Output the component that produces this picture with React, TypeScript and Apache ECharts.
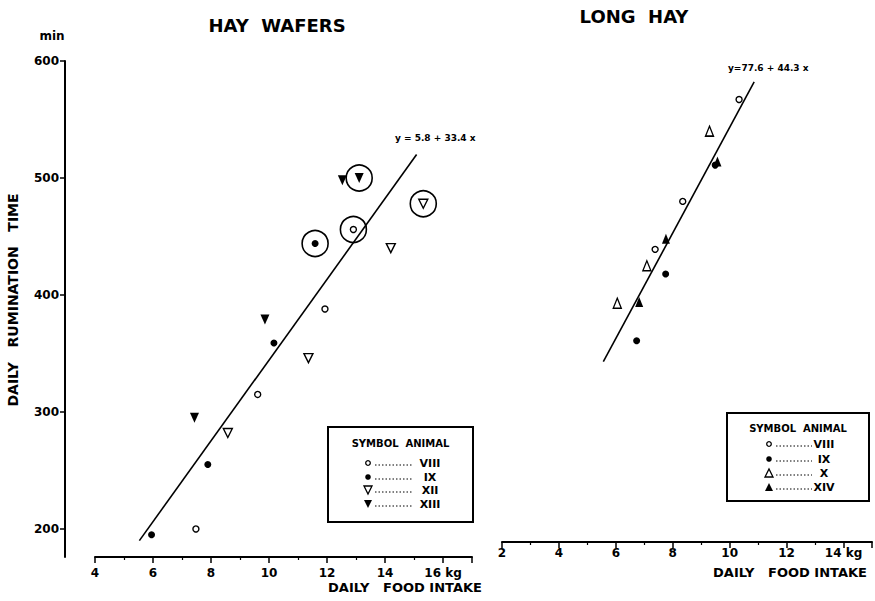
import React, { useEffect, useRef } from "react";
import * as echarts from "echarts";

// ---- data ----
// HAY WAFERS
const wafersVIII: number[][] = [[7.48, 200], [9.61, 315], [11.93, 388], [12.91, 456]];
const wafersIX: number[][] = [[5.95, 195], [7.89, 255], [10.17, 359], [11.59, 444]];
const wafersXII: number[][] = [[8.58, 282], [11.36, 346], [14.2, 440], [15.32, 478]];
const wafersXIII: number[][] = [[7.43, 295], [9.86, 379], [12.53, 498], [13.11, 500]];
const wafersCircled: number[][] = [[11.59, 444], [12.91, 456], [13.11, 500], [15.32, 478]];
const wafersFit: number[][] = [[5.53, 190], [15.09, 520]];
// LONG HAY
const longVIII: number[][] = [[7.38, 416], [8.35, 457], [10.33, 544]];
const longIX: number[][] = [[6.73, 338], [7.75, 395], [9.49, 488]];
const longX: number[][] = [[6.05, 370], [7.09, 402], [9.29, 517]];
const longXIV: number[][] = [[6.82, 371], [7.76, 425], [9.57, 491]];
const longFit: number[][] = [[5.56, 320], [10.86, 559]];

const yTickValues = [200, 300, 400, 500, 600];
const wafersLegend = ["VIII", "IX", "XII", "XIII"];
const longLegend = ["VIII", "IX", "X", "XIV"];
const wafersEquation = "y = 5.8 + 33.4 x";
const longEquation = "y=77.6 + 44.3 x";

const FONT = "DejaVu Sans";
const DOWN_TRI = "path://M0,0L10,0L5,9Z";

function App() {
  const ref = useRef<HTMLDivElement>(null);
  useEffect(() => {
    if (!ref.current) return;
    const chart = echarts.init(ref.current, null, { renderer: "svg" });

    const openStyle = { color: "#fff", borderColor: "#000", borderWidth: 1.4, opacity: 1 };
    const fillStyle = { color: "#000", borderColor: "#000", borderWidth: 0, opacity: 1 };

    const xAxisCommon = (max: number, kgAt: number, margin: number) => ({
      type: "value",
      interval: 2,
      max,
      splitLine: { show: false },
      axisLine: { show: true, lineStyle: { color: "#000", width: 2 } },
      axisTick: { show: true, length: 6, lineStyle: { color: "#000", width: 1.5 } },
      minorTick: { show: true, splitNumber: 2, length: 3, lineStyle: { color: "#000", width: 1.2 } },
      axisLabel: {
        color: "#000",
        fontFamily: FONT,
        fontWeight: "bold",
        fontSize: 12,
        margin,
        formatter: (v: number) =>
          Math.abs(v % 2) > 1e-9 ? "" : v === kgAt ? v + " kg" : String(v),
      },
    });

    const legendGroup = (
      x: number, y: number, w: number, h: number,
      titleY: number, rowsY: number[], symX: number, dotX0: number, dotX1: number,
      numX: number, labels: string[], kinds: string[]
    ) => {
      const children: any[] = [
        { type: "rect", shape: { x, y, width: w, height: h }, style: { fill: "#fff", stroke: "#000", lineWidth: 2 } },
        {
          type: "text", x: x + w / 2, y: titleY,
          style: { text: "SYMBOL  ANIMAL", fill: "#000", font: `bold 10px '${FONT}'`, align: "center", verticalAlign: "middle" },
        },
      ];
      rowsY.forEach((ry, i) => {
        const k = kinds[i];
        if (k === "oc") children.push({ type: "circle", shape: { cx: symX, cy: ry, r: 2.3 }, style: { fill: "#fff", stroke: "#000", lineWidth: 1.3 } });
        if (k === "fc") children.push({ type: "circle", shape: { cx: symX, cy: ry, r: 2.8 }, style: { fill: "#000" } });
        if (k === "od") children.push({ type: "polygon", shape: { points: [[symX - 4, ry - 4], [symX + 4, ry - 4], [symX, ry + 4]] }, style: { fill: "#fff", stroke: "#000", lineWidth: 1.3 } });
        if (k === "fd") children.push({ type: "polygon", shape: { points: [[symX - 4, ry - 4], [symX + 4, ry - 4], [symX, ry + 4]] }, style: { fill: "#000" } });
        if (k === "ou") children.push({ type: "polygon", shape: { points: [[symX - 4, ry + 4], [symX + 4, ry + 4], [symX, ry - 4]] }, style: { fill: "#fff", stroke: "#000", lineWidth: 1.3 } });
        if (k === "fu") children.push({ type: "polygon", shape: { points: [[symX - 4, ry + 4], [symX + 4, ry + 4], [symX, ry - 4]] }, style: { fill: "#000" } });
        children.push({ type: "line", shape: { x1: dotX0, y1: ry + 2, x2: dotX1, y2: ry + 2 }, style: { stroke: "#000", lineWidth: 1, lineDash: [1.5, 2] } });
        children.push({
          type: "text", x: numX, y: ry,
          style: { text: labels[i], fill: "#000", font: `bold 11px '${FONT}'`, align: "center", verticalAlign: "middle" },
        });
      });
      return { type: "group", children };
    };

    const txt = (text: string, x: number, y: number, size: number, align = "center", rotation = 0) => ({
      type: "text", x, y, rotation,
      style: { text, fill: "#000", font: `bold ${size}px '${FONT}'`, align, verticalAlign: "middle" },
    });

    chart.setOption({
      animation: false,
      backgroundColor: "#fff",
      grid: [
        { left: 95, top: 61, width: 377, height: 496 },
        { left: 502, top: 34, width: 370, height: 508 },
      ],
      xAxis: [
        { gridIndex: 0, min: 4, ...xAxisCommon(17, 16, 10) },
        { gridIndex: 1, min: 2, ...xAxisCommon(15, 14, 5) },
      ],
      yAxis: [
        {
          gridIndex: 0, type: "value", min: 176, max: 600, offset: 30,
          splitLine: { show: false },
          axisLine: { show: true, lineStyle: { color: "#000", width: 2 } },
          axisTick: { show: true, length: 5, customValues: yTickValues, lineStyle: { color: "#000", width: 1.5 } },
          axisLabel: { customValues: yTickValues, color: "#000", fontFamily: FONT, fontWeight: "bold", fontSize: 12, margin: 6 },
        },
        { gridIndex: 1, type: "value", min: 166, max: 600, show: false, splitLine: { show: false } },
      ],
      series: [
        { type: "line", xAxisIndex: 0, yAxisIndex: 0, data: wafersFit, symbol: "none", lineStyle: { color: "#000", width: 1.6 } },
        { type: "scatter", xAxisIndex: 0, yAxisIndex: 0, data: wafersCircled, symbol: "circle", symbolSize: 26, itemStyle: { color: "rgba(0,0,0,0)", borderColor: "#000", borderWidth: 1.6, opacity: 1 } },
        { type: "scatter", xAxisIndex: 0, yAxisIndex: 0, data: wafersVIII, symbol: "circle", symbolSize: 6, itemStyle: openStyle },
        { type: "scatter", xAxisIndex: 0, yAxisIndex: 0, data: wafersIX, symbol: "circle", symbolSize: 7, itemStyle: fillStyle },
        { type: "scatter", xAxisIndex: 0, yAxisIndex: 0, data: wafersXII, symbol: DOWN_TRI, symbolSize: [9, 9], itemStyle: openStyle },
        { type: "scatter", xAxisIndex: 0, yAxisIndex: 0, data: wafersXIII, symbol: DOWN_TRI, symbolSize: [9, 10], itemStyle: fillStyle },

        { type: "line", xAxisIndex: 1, yAxisIndex: 1, data: longFit, symbol: "none", lineStyle: { color: "#000", width: 1.6 } },
        { type: "scatter", xAxisIndex: 1, yAxisIndex: 1, data: longVIII, symbol: "circle", symbolSize: 6, itemStyle: openStyle },
        { type: "scatter", xAxisIndex: 1, yAxisIndex: 1, data: longIX, symbol: "circle", symbolSize: 7, itemStyle: fillStyle },
        { type: "scatter", xAxisIndex: 1, yAxisIndex: 1, data: longX, symbol: "triangle", symbolSize: [8, 10], itemStyle: openStyle },
        { type: "scatter", xAxisIndex: 1, yAxisIndex: 1, data: longXIV, symbol: "triangle", symbolSize: [8, 10], itemStyle: fillStyle },
      ],
      graphic: [
        txt("HAY  WAFERS", 277, 25, 18),
        txt("LONG  HAY", 634, 16, 18),
        txt("min", 52, 36, 12),
        txt("DAILY   RUMINATION   TIME", 13, 300, 14, "center", Math.PI / 2),
        txt("DAILY   FOOD INTAKE", 405, 587, 13),
        txt("DAILY   FOOD INTAKE", 790, 572, 13),
        txt(wafersEquation, 395, 138, 9, "left"),
        txt(longEquation, 728, 68, 9, "left"),
        legendGroup(328, 427, 145, 95, 443, [463, 477, 490, 504], 368, 375, 413, 430, wafersLegend, ["oc", "fc", "od", "fd"]),
        legendGroup(727, 413, 142, 88, 428, [444, 459, 473, 487], 769, 776, 812, 824, longLegend, ["oc", "fc", "ou", "fu"]),
      ],
    });
    return () => chart.dispose();
  }, []);
  return (
    <div
      ref={ref}
      style={{ position: "fixed", left: 0, top: 0, width: 875, height: 601, background: "#fff" }}
    />
  );
}

export default App;
